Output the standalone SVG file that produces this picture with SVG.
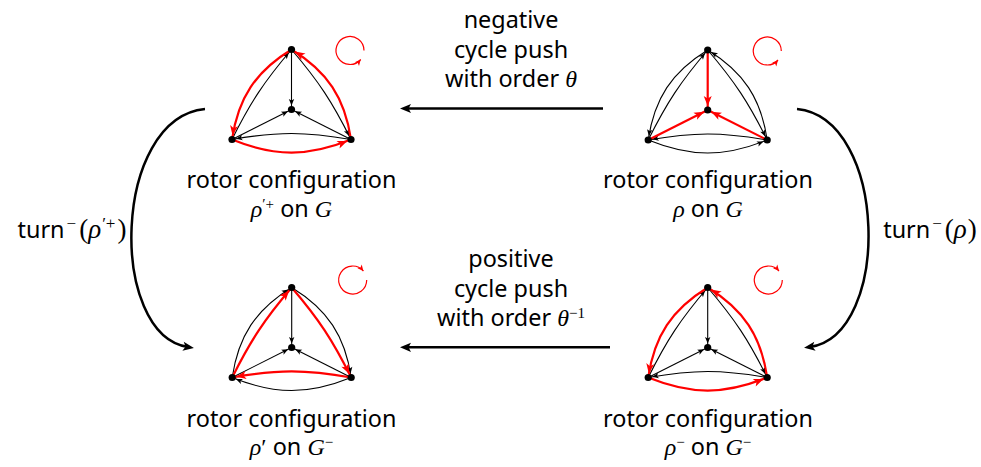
<svg xmlns="http://www.w3.org/2000/svg" width="981" height="467" viewBox="0 0 981 467">
<style>
.e{fill:none;stroke:#000;stroke-width:1.1;marker-end:url(#ak)}
.r{fill:none;stroke:#f00;stroke-width:2.2;marker-end:url(#ar)}
.cyc{fill:none;stroke:#f00;stroke-width:1.2;marker-end:url(#ac)}
.big{fill:none;stroke:#000;stroke-width:2.5;marker-end:url(#ab)}
.dot{fill:#000}
text{font-family:"Noto Sans","Open Sans","DejaVu Sans",sans-serif;font-size:23.4px;fill:#000;text-anchor:middle}
.m{font-family:"Liberation Serif","DejaVu Serif",serif;font-style:italic;font-size:24px}
.mu{font-family:"Liberation Serif","DejaVu Serif",serif;font-style:normal;font-size:24px}
.s{font-size:15px}
.s2{font-size:17px}
.t{font-size:27px}
</style>
<defs>
<marker id="ak" markerUnits="userSpaceOnUse" viewBox="-12 -6 18 12" markerWidth="18" markerHeight="12" refX="4" refY="0" orient="auto" overflow="visible"><path d="M0,0 L-6.5,-2.7 L-5,0 L-6.5,2.7 Z" fill="#000"/></marker>
<marker id="ar" markerUnits="userSpaceOnUse" viewBox="-14 -7 20 14" markerWidth="20" markerHeight="14" refX="4" refY="0" orient="auto" overflow="visible"><path d="M0,0 L-10,-4 L-7.5,0 L-10,4 Z" fill="#f00"/></marker>
<marker id="ac" markerUnits="userSpaceOnUse" viewBox="-8 -4 10 8" markerWidth="10" markerHeight="8" refX="0" refY="0" orient="auto" overflow="visible"><path d="M0,0 L-6,-2.8 L-4.5,0 L-6,2.8 Z" fill="#f00"/></marker>
<marker id="ab" markerUnits="userSpaceOnUse" viewBox="-14 -7 20 14" markerWidth="20" markerHeight="14" refX="-6" refY="0" orient="auto" overflow="visible"><path d="M0,0 L-11,-4.6 L-8.5,0 L-11,4.6 Z" fill="#000"/></marker>
</defs>

<g id="connectors">
<path class="big" d="M603,108.5 L406,108.5"/>
<path class="big" d="M610,347.3 L406,347.3"/>
<path class="big" d="M205,109 C112,118 108,335 188,347"/>
<path class="big" d="M797,109 C888,118 892,335 810,347"/>
</g>

<g id="rho-plus-G" transform="translate(291.5,49.5)">
<path class="e" d="M-59.5,90 C-40.7,52.3 -27.3,32 0,0"/>
<path class="e" d="M0,0 C27.3,32 40.7,52.3 59.5,90"/>
<path class="e" d="M59.5,90 C13.8,81.9 -13.8,81.9 -59.5,90"/>
<path class="e" d="M0,0 L0,60"/>
<path class="e" d="M-59.5,90 L0,60"/>
<path class="e" d="M59.5,90 L0,60"/>
<path class="r" d="M0,0 C-35.9,22 -53.3,48.4 -59.5,90"/>
<path class="r" d="M59.5,90 C53.3,48.4 35.9,22 0,0"/>
<path class="r" d="M-59.5,90 C-16.5,107.4 16.5,107.4 59.5,90"/>
<circle class="dot" cx="0" cy="0" r="3.6"/><circle class="dot" cx="0" cy="60" r="3.6"/><circle class="dot" cx="-59.5" cy="90" r="3.6"/><circle class="dot" cx="59.5" cy="90" r="3.6"/>
<path class="cyc" d="M72.5,1 A14,14 0 1 0 69.22,10"/>
</g>

<g id="rho-G" transform="translate(707.7,50)">
<path class="e" d="M-59.5,90 C-40.7,52.3 -27.3,32 0,0"/>
<path class="e" d="M0,0 C27.3,32 40.7,52.3 59.5,90"/>
<path class="e" d="M59.5,90 C13.8,81.9 -13.8,81.9 -59.5,90"/>
<path class="e" d="M0,0 C-35.9,22 -53.3,48.4 -59.5,90"/>
<path class="e" d="M59.5,90 C53.3,48.4 35.9,22 0,0"/>
<path class="e" d="M-59.5,90 C-16.5,107.4 16.5,107.4 59.5,90"/>
<path class="r" d="M0,0 L0,60"/>
<path class="r" d="M-59.5,90 L0,60"/>
<path class="r" d="M59.5,90 L0,60"/>
<circle class="dot" cx="0" cy="0" r="3.6"/><circle class="dot" cx="0" cy="60" r="3.6"/><circle class="dot" cx="-59.5" cy="90" r="3.6"/><circle class="dot" cx="59.5" cy="90" r="3.6"/>
<path class="cyc" d="M73.6,1 A14,14 0 1 0 70.32,10"/>
</g>

<g id="rho-prime-Gminus" transform="translate(291.7,287.5)">
<path class="e" d="M-59.5,90 C-53.3,48.4 -35.9,22 0,0"/>
<path class="e" d="M0,0 C35.9,22 53.3,48.4 59.5,90"/>
<path class="e" d="M59.5,90 C16.5,107.4 -16.5,107.4 -59.5,90"/>
<path class="e" d="M0,0 L0,60"/>
<path class="e" d="M-59.5,90 L0,60"/>
<path class="e" d="M59.5,90 L0,60"/>
<path class="r" d="M-59.5,90 C-40.7,52.3 -27.3,32 0,0"/>
<path class="r" d="M0,0 C27.3,32 40.7,52.3 59.5,90"/>
<path class="r" d="M59.5,90 C13.8,81.9 -13.8,81.9 -59.5,90"/>
<circle class="dot" cx="0" cy="0" r="3.6"/><circle class="dot" cx="0" cy="60" r="3.6"/><circle class="dot" cx="-59.5" cy="90" r="3.6"/><circle class="dot" cx="59.5" cy="90" r="3.6"/>
<path class="cyc" d="M75,-7.5 A14,14 0 1 1 71.72,-16.5"/>
</g>

<g id="rho-minus-Gminus" transform="translate(707.7,287.5)">
<path class="e" d="M-59.5,90 C-40.7,52.3 -27.3,32 0,0"/>
<path class="e" d="M0,0 C27.3,32 40.7,52.3 59.5,90"/>
<path class="e" d="M59.5,90 C13.8,81.9 -13.8,81.9 -59.5,90"/>
<path class="e" d="M0,0 L0,60"/>
<path class="e" d="M-59.5,90 L0,60"/>
<path class="e" d="M59.5,90 L0,60"/>
<path class="r" d="M0,0 C-35.9,22 -53.3,48.4 -59.5,90"/>
<path class="r" d="M59.5,90 C53.3,48.4 35.9,22 0,0"/>
<path class="r" d="M-59.5,90 C-16.5,107.4 16.5,107.4 59.5,90"/>
<circle class="dot" cx="0" cy="0" r="3.6"/><circle class="dot" cx="0" cy="60" r="3.6"/><circle class="dot" cx="-59.5" cy="90" r="3.6"/><circle class="dot" cx="59.5" cy="90" r="3.6"/>
<path class="cyc" d="M74.6,-7.5 A14,14 0 1 1 71.32,-16.5"/>
</g>

<g id="label-rho-plus-G">
<text x="291.5" y="188">rotor configuration</text>
<text x="291.5" y="216.5"><tspan class="m">ρ</tspan><tspan class="mu s" dy="-8">′+</tspan><tspan dy="8"> on </tspan><tspan class="m">G</tspan></text>
</g>
<g id="label-rho-G">
<text x="708" y="188">rotor configuration</text>
<text x="708" y="216.5"><tspan class="m">ρ</tspan> on <tspan class="m">G</tspan></text>
</g>
<g id="label-rho-prime-Gminus">
<text x="291.5" y="426.5">rotor configuration</text>
<text x="291.5" y="455"><tspan class="m">ρ</tspan><tspan class="mu">′</tspan> on <tspan class="m">G</tspan><tspan class="mu s" dy="-8">−</tspan></text>
</g>
<g id="label-rho-minus-Gminus">
<text x="708" y="426.5">rotor configuration</text>
<text x="708" y="455"><tspan class="m">ρ</tspan><tspan class="mu s" dy="-8">−</tspan><tspan dy="8"> on </tspan><tspan class="m">G</tspan><tspan class="mu s" dy="-8">−</tspan></text>
</g>

<g id="label-negative">
<text x="511" y="28">negative</text>
<text x="511" y="57.5">cycle push</text>
<text x="511" y="87">with order <tspan class="m">θ</tspan></text>
</g>
<g id="label-positive">
<text x="511" y="267">positive</text>
<text x="511" y="296.5">cycle push</text>
<text x="511" y="326">with order <tspan class="m">θ</tspan><tspan class="mu s" dy="-8">−1</tspan></text>
</g>
<g id="label-turn-left">
<text x="72" y="238">turn<tspan class="mu s2" dy="-9" dx="2">−</tspan><tspan class="mu t" dy="9" dx="3">(</tspan><tspan class="m t">ρ</tspan><tspan class="mu s2" dy="-9" dx="1">′+</tspan><tspan class="mu t" dy="9" dx="2">)</tspan></text>
</g>
<g id="label-turn-right">
<text x="930" y="238">turn<tspan class="mu s2" dy="-9" dx="2">−</tspan><tspan class="mu t" dy="9" dx="3">(</tspan><tspan class="m t">ρ</tspan><tspan class="mu t" dx="1">)</tspan></text>
</g>
</svg>
